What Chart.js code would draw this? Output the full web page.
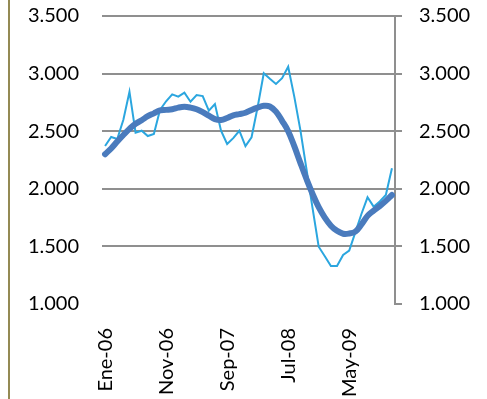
<!DOCTYPE html>
<html lang="es">
<head>
  <meta charset="UTF-8" />
  <title>Serie mensual</title>
  <script src="https://cdn.jsdelivr.net/npm/chart.js"></script>
  <style>
    body {
      margin: 0;
      background: #fff;
    }

    .frame {
      position: relative;
      width: 487px;
      height: 399px;
    }

    /* olive rule on the left edge */
    .frame::before {
      content: '';
      position: absolute;
      left: 8px;
      top: 0;
      width: 2px;
      height: 100%;
      background: #948a54;
    }
  </style>
</head>
<body>
  <div class="frame">
    <canvas id="serie"></canvas>
  </div>

  <script>
    const meses = ['Ene', 'Feb', 'Mar', 'Abr', 'May', 'Jun', 'Jul', 'Ago', 'Sep', 'Oct', 'Nov', 'Dic'];
    const anios = ['06', '07', '08', '09'];
    const categorias = anios.flatMap(a => meses.map(m => m + '-' + a));

    // mensual
    const mensual = [
      2371, 2450, 2432, 2600, 2843, 2487, 2504, 2458, 2476, 2684, 2760, 2820,
      2800, 2834, 2756, 2814, 2805, 2678, 2736, 2504, 2389, 2440, 2504, 2371,
      2447, 2710, 3003, 2955, 2910, 2960, 3060, 2800, 2510, 2170, 1830, 1497,
      1415, 1330, 1330, 1425, 1463, 1622, 1781, 1926, 1845, 1890, 1946, 2178
    ];

    // tendencia
    const tendencia = [
      2300, 2350, 2410, 2467, 2520, 2565, 2595, 2630, 2655, 2680, 2685, 2690,
      2705, 2712, 2705, 2690, 2665, 2635, 2605, 2597, 2615, 2638, 2648, 2660,
      2685, 2705, 2720, 2715, 2670, 2590, 2500, 2370, 2225, 2085, 1955, 1840,
      1750, 1680, 1635, 1610, 1612, 1628, 1690, 1765, 1810, 1850, 1895, 1946
    ];

    const ejeMin = 1000;
    const ejeMax = 3500;
    const paso = 500;

    const gris = '#8f8f8f';
    const fuente = { family: 'Lato', size: 20 };
    const formato = v => (v / 1000).toFixed(3);

    // fixed width for the value axes, and no extra top/bottom padding from the labels
    const anchoEje = w => s => {
      s.width = w;
      s.paddingTop = 0;
      s.paddingBottom = 0;
    };

    const ctx = document.getElementById('serie').getContext('2d');
    new Chart(ctx, {
      type: 'line',
      data: {
        labels: categorias,
        datasets: [
          {
            label: 'Tendencia',
            data: tendencia,
            borderColor: '#4a7bbd',
            borderWidth: 6,
            tension: 0.4,
            pointRadius: 0,
            borderCapStyle: 'round',
            borderJoinStyle: 'round',
            yAxisID: 'y',
            order: 0
          },
          {
            label: 'Mensual',
            data: mensual,
            borderColor: '#2ba6df',
            borderWidth: 2,
            tension: 0,
            pointRadius: 0,
            yAxisID: 'y',
            order: 1
          }
        ]
      },
      options: {
        responsive: true,
        maintainAspectRatio: false,
        animation: false,
        layout: { padding: { top: 16, left: 0, right: 0, bottom: 0 } },
        plugins: {
          legend: { display: false },
          tooltip: { enabled: false }
        },
        scales: {
          x: {
            offset: true,
            border: { display: false },
            grid: { display: false, drawTicks: false },
            ticks: {
              autoSkip: false,
              minRotation: 90,
              maxRotation: 90,
              padding: 24,
              color: '#000',
              font: fuente,
              callback: function (v, i) {
                return i % 10 === 0 ? this.getLabelForValue(v) : null;
              }
            },
            afterFit: s => { s.height = 95; }
          },
          y: {
            position: 'left',
            min: ejeMin,
            max: ejeMax,
            border: { display: false },
            grid: { display: false, drawTicks: false },
            ticks: { stepSize: paso, padding: 23, color: '#000', font: fuente, callback: formato },
            afterFit: anchoEje(102)
          },
          y2: {
            position: 'right',
            min: ejeMin,
            max: ejeMax,
            border: { display: true, color: gris, width: 2 },
            grid: {
              drawTicks: true,
              tickLength: 7,
              lineWidth: 2,
              tickWidth: 2,
              tickColor: gris,
              color: c => (c.tick && c.tick.value === ejeMin ? 'rgba(0,0,0,0)' : gris)
            },
            ticks: { stepSize: paso, padding: 17, color: '#000', font: fuente, callback: formato },
            afterFit: anchoEje(92)
          }
        }
      }
    });
  </script>
</body>
</html>
